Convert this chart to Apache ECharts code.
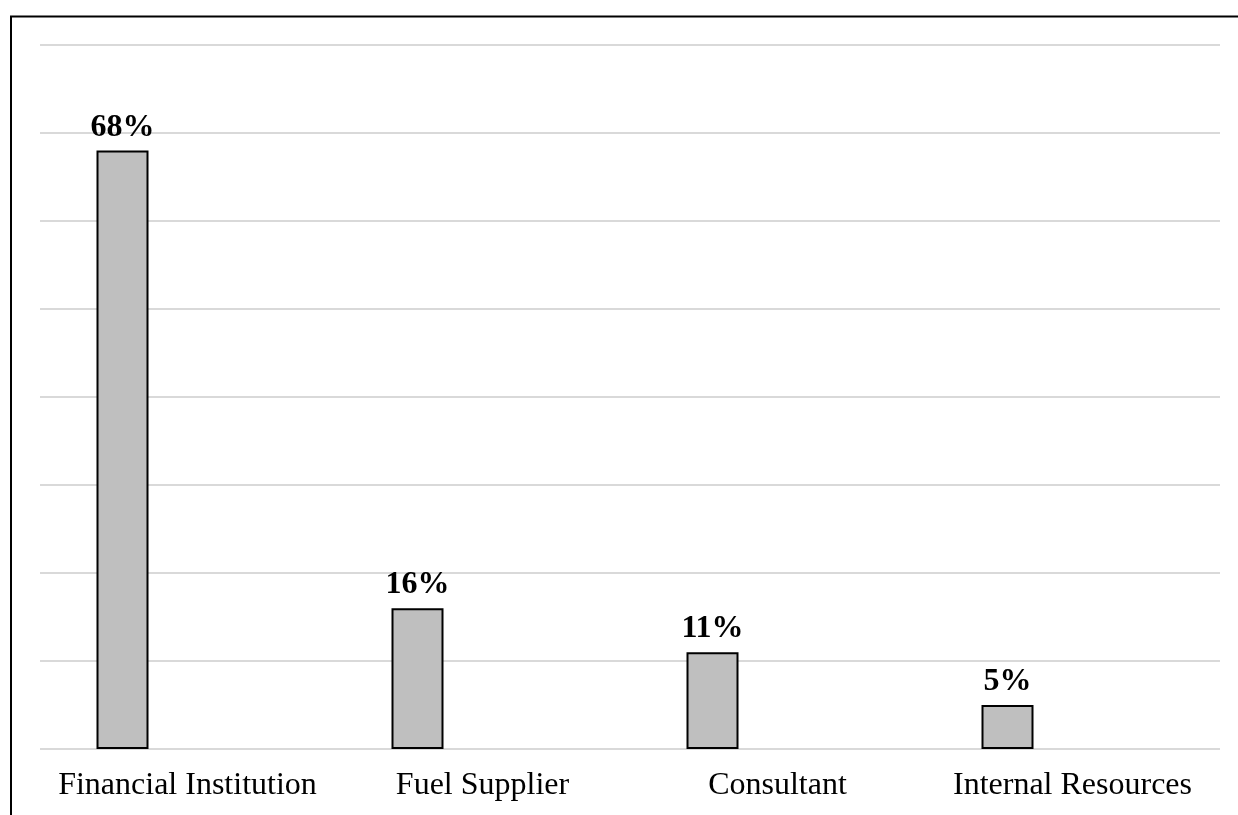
<!DOCTYPE html>
<html>
<head>
<meta charset="utf-8">
<script src="https://cdn.jsdelivr.net/npm/echarts@6/dist/echarts.min.js"></script>
<style>
  html, body { margin: 0; padding: 0; background: #fff; }
  #chart { width: 1238px; height: 815px; }
</style>
</head>
<body>
<div id="chart"></div>
<script>
// Share of respondents by source
const categories = ['Financial Institution', 'Fuel Supplier', 'Consultant', 'Internal Resources'];
const shares = [0.68, 0.16, 0.11, 0.05];
const axisMax = 0.8;
const axisStep = 0.1;

const chart = echarts.init(document.getElementById('chart'), null, { renderer: 'canvas' });

chart.setOption({
  animation: false,
  backgroundColor: '#ffffff',
  graphic: [{
    type: 'rect',
    silent: true,
    shape: { x: 11, y: 16.5, width: 1300, height: 900 },
    style: { fill: 'none', stroke: '#000000', lineWidth: 2 }
  }],
  grid: { left: 40, right: 18, top: 45, bottom: 66 },
  xAxis: {
    type: 'category',
    data: categories,
    axisLine: { show: false },
    axisTick: { show: false },
    axisLabel: {
      interval: 0,
      color: '#000000',
      fontFamily: 'Liberation Serif, Times New Roman, serif',
      fontSize: 32,
      margin: 21
    }
  },
  yAxis: {
    type: 'value',
    min: 0,
    max: axisMax,
    interval: axisStep,
    axisLine: { show: false },
    axisTick: { show: false },
    axisLabel: { show: false },
    splitLine: { lineStyle: { color: '#d9d9d9', width: 2 } }
  },
  series: [
    {
      type: 'bar',
      data: shares,
      barWidth: 52,
      barGap: '150%',
      itemStyle: { color: '#bfbfbf', borderColor: '#000000', borderWidth: 2 },
      label: {
        show: true,
        position: 'top',
        distance: 7,
        color: '#000000',
        fontFamily: 'Liberation Serif, Times New Roman, serif',
        fontWeight: 'bold',
        fontSize: 32,
        formatter: p => Math.round(p.value * 100) + '%'
      }
    },
    {
      // empty companion series that reserves the second slot in each category
      type: 'bar',
      data: [],
      barWidth: 52,
      silent: true
    }
  ]
});
</script>
</body>
</html>
